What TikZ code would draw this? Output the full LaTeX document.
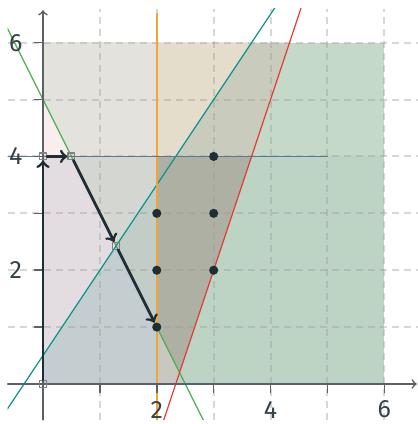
\documentclass[tikz,border=0pt]{standalone}
\usepackage{fontspec}
\setmainfont{Fira Sans}
\definecolor{ink}{HTML}{1F2D34}
\definecolor{axisgray}{HTML}{5A6268}
\definecolor{gridgray}{HTML}{9C9C9C}
\definecolor{lgreen}{HTML}{4CAF50}
\definecolor{lteal}{HTML}{12928C}
\definecolor{lred}{HTML}{E53935}
\definecolor{lorange}{HTML}{F2A33A}
\definecolor{lslate}{HTML}{5E7A8E}
\definecolor{regA}{HTML}{F9EDED}
\definecolor{regB}{HTML}{E4E2DC}
\definecolor{regC}{HTML}{E4DDCC}
\definecolor{regD}{HTML}{C9CBBC}
\definecolor{regE}{HTML}{C4D9C7}
\definecolor{regF}{HTML}{E3DDE1}
\definecolor{regG}{HTML}{D4D7D1}
\definecolor{regH}{HTML}{C4CDCF}
\definecolor{regI}{HTML}{C1CDC6}
\definecolor{regJ}{HTML}{ADB0A2}
\definecolor{regK}{HTML}{BDD4C4}
\definecolor{regL}{HTML}{C9C8C0}
\begin{document}
\begin{tikzpicture}[declare function={xa=-0.62; xb=6.6; ya=-0.63; yb=6.6;}, line join=round, line cap=round, >=to,
  font=\fontsize{12.5}{15}\selectfont,
  gridline/.style={gridgray, line width=1pt, dash pattern=on 3.5pt off 2.5pt, line cap=butt, opacity=0.4},
  tick/.style={axisgray, line width=0.8pt},
  axis/.style={axisgray, line width=0.8pt, ->},
  bound/.style={line width=0.6pt},
  walk/.style={ink, line width=1.4pt, ->},
  vtx/.style={rectangle, draw=gray, line width=0.6pt, minimum size=0.12cm, inner sep=0pt},
  dot/.style={circle, fill=ink, minimum size=0.16cm, inner sep=0pt},
  tlabel/.style={text=ink!90}]
	\useasboundingbox (-0.756,-0.703) rectangle (6.59,6.75);
	\coordinate (O) at (0,0);
	\coordinate (V1) at (9/7,17/7);
	\coordinate (V2) at (2.4,0.2);
	\fill[regK] (0,0) rectangle (6,4);
	\fill[regE] (0,4) rectangle (6,6);
	\fill[regD] (0,4) -- (11/3,4) -- (13/3,6) -- (0,6) -- cycle;
	\fill[regC] (0,4) -- (7/3,4) -- (11/3,6) -- (0,6) -- cycle;
	\fill[regB] (0,4) rectangle (2,6);
	\fill[regA] (0,4) -- (0.5,4) -- (0,5) -- cycle;
	\fill[regJ] (O) -- (7/3,0) -- (11/3,4) -- (0,4) -- cycle;
	\fill[regL] (2,0) -- (7/3,0) -- (V2) -- (2,1) -- cycle;
	\fill[regI] (O) rectangle (2,4);
	\fill[regG] (0,0.5) -- (0,4) -- (2,4) -- (2,3.5) -- cycle;
	\fill[regH] (O) -- (2,0) -- (2,1) -- (0.5,4) -- (0,4) -- cycle;
	\fill[regF] (0,0.5) -- (V1) -- (0.5,4) -- (0,4) -- cycle;
	\begin{scope}
		\clip (xa,ya) rectangle (xb,yb);
		\foreach \i in {1,...,6} {
			\draw[gridline] (\i,ya) -- (\i,yb);
			\draw[gridline] (xa,\i) -- (xb,\i);
		}
		\draw[bound, lgreen] (-1,7) -- (3,-1);
		\draw[bound, lteal] (-1,-1) -- (5,8);
		\draw[bound, lred] (2,-1) -- (5,8);
		\draw[lorange, line width=1pt] (2,ya) -- (2,6.52);
		\draw[bound, lslate] (xa,4) -- (5,4);
	\end{scope}
	\foreach \i in {1,...,6} {
		\draw[tick] (\i,0) -- (\i,-0.15);
		\draw[tick] (0,\i) -- (-0.15,\i);
	}
	\draw[axis] (xa,0) -- (6.57,0);
	\draw[axis] (0,ya) -- (0,6.57);
	\foreach \i in {2,4,6} {
		\node[tlabel] (xl\i) at (\i,-0.45) {\i};
		\node[tlabel] (yl\i) at (-0.48,\i) {\i};
	}
	\foreach \x/\y in {2/1,2/2,2/3,3/2,3/3,3/4}
		\node[dot] (p\x\y) at (\x,\y) {};
	\node[vtx] (s0) at (O) {};
	\node[vtx] (s1) at (0,4) {};
	\node[vtx] (s2) at (0.5,4) {};
	\node[vtx] (s3) at (V1) {};
	\draw[walk] (s0) -- (s1);
	\draw[walk] (s1) -- (s2);
	\draw[walk] (s2) -- (s3);
	\draw[walk] (s3) -- (p21);
\end{tikzpicture}
\end{document}
